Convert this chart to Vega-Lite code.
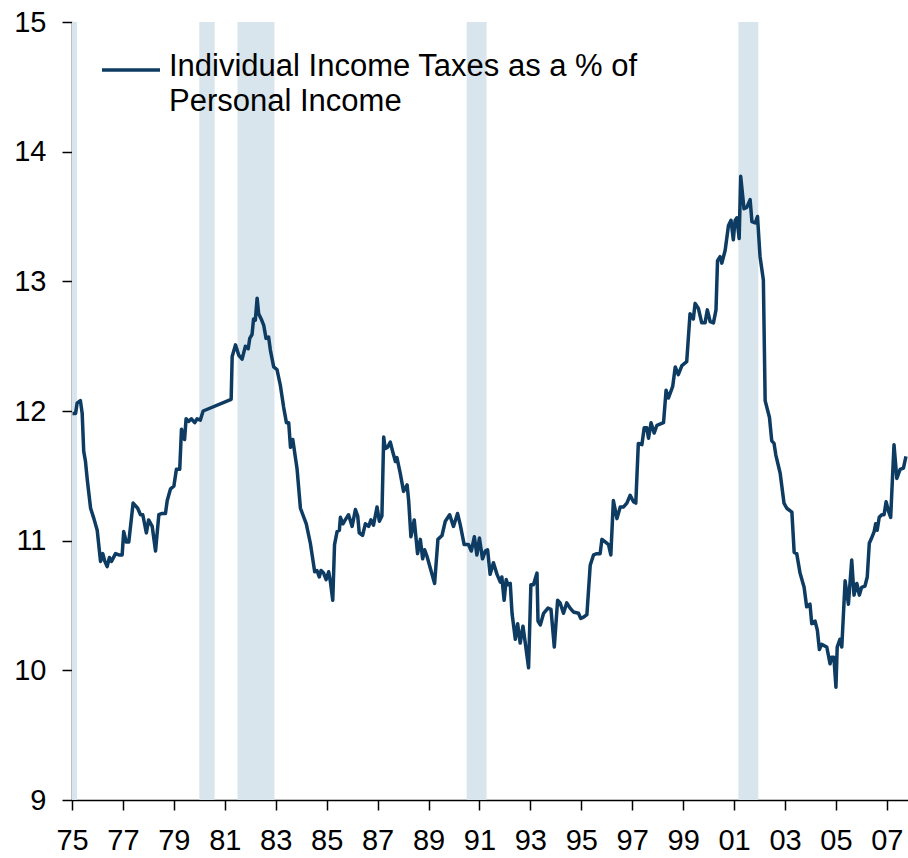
{
  "$schema": "https://vega.github.io/schema/vega-lite/v6.json",
  "width": 836,
  "height": 778,
  "autosize": {"type": "none"},
  "padding": {"left": 72, "top": 22, "right": 0, "bottom": 58},
  "background": "white",
  "config": {
    "view": {"stroke": null},
    "font": "Liberation Sans",
    "axis": {"grid": false, "domainColor": "black", "tickColor": "black", "domainWidth": 1.5, "tickWidth": 1.5, "labelColor": "black", "labelFont": "Liberation Sans", "labelFontSize": 29, "title": null}
  },
  "datasets": {
    "bands": [
      {"start": 1975.0, "end": 1975.2},
      {"start": 1980.0, "end": 1980.6},
      {"start": 1981.5, "end": 1982.95},
      {"start": 1990.5, "end": 1991.28},
      {"start": 2001.17, "end": 2001.95}
    ],
    "series": [
      {"t": 1975.02, "v": 11.98}, {"t": 1975.14, "v": 11.98}, {"t": 1975.20, "v": 12.06}, {"t": 1975.33, "v": 12.08},
      {"t": 1975.40, "v": 11.98}, {"t": 1975.46, "v": 11.69}, {"t": 1975.53, "v": 11.61}, {"t": 1975.60, "v": 11.47},
      {"t": 1975.73, "v": 11.25}, {"t": 1975.86, "v": 11.17}, {"t": 1975.99, "v": 11.08}, {"t": 1976.12, "v": 10.84},
      {"t": 1976.21, "v": 10.90}, {"t": 1976.29, "v": 10.84}, {"t": 1976.38, "v": 10.80}, {"t": 1976.47, "v": 10.87},
      {"t": 1976.55, "v": 10.84}, {"t": 1976.71, "v": 10.90}, {"t": 1976.84, "v": 10.89}, {"t": 1976.97, "v": 10.89},
      {"t": 1977.03, "v": 11.07}, {"t": 1977.13, "v": 10.99}, {"t": 1977.23, "v": 10.99}, {"t": 1977.40, "v": 11.29},
      {"t": 1977.58, "v": 11.25}, {"t": 1977.69, "v": 11.20}, {"t": 1977.78, "v": 11.20}, {"t": 1977.92, "v": 11.06},
      {"t": 1978.01, "v": 11.16}, {"t": 1978.15, "v": 11.11}, {"t": 1978.28, "v": 10.92}, {"t": 1978.41, "v": 11.20},
      {"t": 1978.54, "v": 11.21}, {"t": 1978.67, "v": 11.21}, {"t": 1978.74, "v": 11.31}, {"t": 1978.87, "v": 11.40},
      {"t": 1979.00, "v": 11.42}, {"t": 1979.10, "v": 11.55}, {"t": 1979.23, "v": 11.55}, {"t": 1979.30, "v": 11.86},
      {"t": 1979.42, "v": 11.78}, {"t": 1979.48, "v": 11.94}, {"t": 1979.58, "v": 11.92}, {"t": 1979.69, "v": 11.94},
      {"t": 1979.82, "v": 11.91}, {"t": 1979.91, "v": 11.94}, {"t": 1980.04, "v": 11.93}, {"t": 1980.15, "v": 12.00},
      {"t": 1981.25, "v": 12.09}, {"t": 1981.29, "v": 12.42}, {"t": 1981.42, "v": 12.51}, {"t": 1981.55, "v": 12.43},
      {"t": 1981.68, "v": 12.40}, {"t": 1981.81, "v": 12.50}, {"t": 1981.92, "v": 12.48}, {"t": 1981.98, "v": 12.56},
      {"t": 1982.07, "v": 12.59}, {"t": 1982.13, "v": 12.71}, {"t": 1982.20, "v": 12.70}, {"t": 1982.27, "v": 12.87},
      {"t": 1982.33, "v": 12.75}, {"t": 1982.43, "v": 12.71}, {"t": 1982.53, "v": 12.66}, {"t": 1982.62, "v": 12.56},
      {"t": 1982.72, "v": 12.57}, {"t": 1982.79, "v": 12.47}, {"t": 1982.92, "v": 12.34}, {"t": 1983.05, "v": 12.32},
      {"t": 1983.18, "v": 12.20}, {"t": 1983.31, "v": 12.03}, {"t": 1983.42, "v": 11.91}, {"t": 1983.51, "v": 11.91},
      {"t": 1983.58, "v": 11.72}, {"t": 1983.67, "v": 11.78}, {"t": 1983.84, "v": 11.55}, {"t": 1983.97, "v": 11.25},
      {"t": 1984.20, "v": 11.13}, {"t": 1984.36, "v": 10.98}, {"t": 1984.53, "v": 10.76}, {"t": 1984.62, "v": 10.77},
      {"t": 1984.71, "v": 10.72}, {"t": 1984.78, "v": 10.77}, {"t": 1984.88, "v": 10.75}, {"t": 1984.98, "v": 10.70},
      {"t": 1985.08, "v": 10.76}, {"t": 1985.15, "v": 10.68}, {"t": 1985.24, "v": 10.54}, {"t": 1985.31, "v": 10.97},
      {"t": 1985.41, "v": 11.07}, {"t": 1985.50, "v": 11.08}, {"t": 1985.54, "v": 11.18}, {"t": 1985.64, "v": 11.13},
      {"t": 1985.73, "v": 11.16}, {"t": 1985.86, "v": 11.20}, {"t": 1986.00, "v": 11.11}, {"t": 1986.13, "v": 11.24},
      {"t": 1986.22, "v": 11.19}, {"t": 1986.28, "v": 11.06}, {"t": 1986.41, "v": 11.04}, {"t": 1986.52, "v": 11.13},
      {"t": 1986.65, "v": 11.11}, {"t": 1986.74, "v": 11.16}, {"t": 1986.84, "v": 11.12}, {"t": 1986.98, "v": 11.26},
      {"t": 1987.07, "v": 11.15}, {"t": 1987.17, "v": 11.19}, {"t": 1987.24, "v": 11.80}, {"t": 1987.30, "v": 11.71},
      {"t": 1987.39, "v": 11.72}, {"t": 1987.50, "v": 11.76}, {"t": 1987.59, "v": 11.69}, {"t": 1987.70, "v": 11.61},
      {"t": 1987.76, "v": 11.64}, {"t": 1987.89, "v": 11.52}, {"t": 1988.02, "v": 11.38}, {"t": 1988.16, "v": 11.43},
      {"t": 1988.22, "v": 11.31}, {"t": 1988.31, "v": 11.03}, {"t": 1988.44, "v": 11.16}, {"t": 1988.57, "v": 10.90},
      {"t": 1988.68, "v": 11.01}, {"t": 1988.77, "v": 10.86}, {"t": 1988.85, "v": 10.93}, {"t": 1988.94, "v": 10.88},
      {"t": 1989.24, "v": 10.67}, {"t": 1989.37, "v": 11.01}, {"t": 1989.53, "v": 11.04}, {"t": 1989.66, "v": 11.15},
      {"t": 1989.83, "v": 11.20}, {"t": 1989.98, "v": 11.11}, {"t": 1990.14, "v": 11.21}, {"t": 1990.25, "v": 11.12},
      {"t": 1990.40, "v": 10.97}, {"t": 1990.57, "v": 10.97}, {"t": 1990.68, "v": 10.92}, {"t": 1990.80, "v": 11.03},
      {"t": 1990.90, "v": 10.89}, {"t": 1991.00, "v": 11.02}, {"t": 1991.12, "v": 10.86}, {"t": 1991.23, "v": 10.92},
      {"t": 1991.32, "v": 10.93}, {"t": 1991.42, "v": 10.74}, {"t": 1991.55, "v": 10.83}, {"t": 1991.69, "v": 10.74},
      {"t": 1991.82, "v": 10.68}, {"t": 1991.88, "v": 10.72}, {"t": 1991.97, "v": 10.54}, {"t": 1992.05, "v": 10.70},
      {"t": 1992.12, "v": 10.66}, {"t": 1992.21, "v": 10.67}, {"t": 1992.28, "v": 10.44}, {"t": 1992.41, "v": 10.24},
      {"t": 1992.50, "v": 10.36}, {"t": 1992.60, "v": 10.21}, {"t": 1992.71, "v": 10.34}, {"t": 1992.80, "v": 10.21},
      {"t": 1992.93, "v": 10.02}, {"t": 1993.02, "v": 10.66}, {"t": 1993.12, "v": 10.66}, {"t": 1993.26, "v": 10.75},
      {"t": 1993.30, "v": 10.38}, {"t": 1993.39, "v": 10.35}, {"t": 1993.52, "v": 10.44}, {"t": 1993.69, "v": 10.48},
      {"t": 1993.81, "v": 10.47}, {"t": 1993.94, "v": 10.18}, {"t": 1994.07, "v": 10.54}, {"t": 1994.17, "v": 10.52},
      {"t": 1994.30, "v": 10.44}, {"t": 1994.43, "v": 10.52}, {"t": 1994.56, "v": 10.48}, {"t": 1994.69, "v": 10.45},
      {"t": 1994.89, "v": 10.44}, {"t": 1994.98, "v": 10.40}, {"t": 1995.09, "v": 10.41}, {"t": 1995.22, "v": 10.43},
      {"t": 1995.35, "v": 10.81}, {"t": 1995.48, "v": 10.89}, {"t": 1995.61, "v": 10.90}, {"t": 1995.74, "v": 10.90},
      {"t": 1995.81, "v": 11.01}, {"t": 1995.94, "v": 10.99}, {"t": 1996.07, "v": 10.97}, {"t": 1996.16, "v": 10.89},
      {"t": 1996.26, "v": 11.31}, {"t": 1996.40, "v": 11.17}, {"t": 1996.53, "v": 11.26}, {"t": 1996.66, "v": 11.26},
      {"t": 1996.79, "v": 11.29}, {"t": 1996.92, "v": 11.35}, {"t": 1997.05, "v": 11.30}, {"t": 1997.14, "v": 11.29},
      {"t": 1997.24, "v": 11.75}, {"t": 1997.38, "v": 11.74}, {"t": 1997.47, "v": 11.87}, {"t": 1997.57, "v": 11.87},
      {"t": 1997.64, "v": 11.79}, {"t": 1997.74, "v": 11.91}, {"t": 1997.86, "v": 11.83}, {"t": 1997.97, "v": 11.89},
      {"t": 1998.23, "v": 11.91}, {"t": 1998.33, "v": 12.16}, {"t": 1998.42, "v": 12.10}, {"t": 1998.59, "v": 12.19},
      {"t": 1998.69, "v": 12.34}, {"t": 1998.81, "v": 12.28}, {"t": 1998.95, "v": 12.35}, {"t": 1999.14, "v": 12.38},
      {"t": 1999.27, "v": 12.75}, {"t": 1999.40, "v": 12.71}, {"t": 1999.47, "v": 12.83}, {"t": 1999.60, "v": 12.79},
      {"t": 1999.73, "v": 12.68}, {"t": 1999.86, "v": 12.68}, {"t": 1999.95, "v": 12.78}, {"t": 2000.06, "v": 12.69},
      {"t": 2000.19, "v": 12.68}, {"t": 2000.29, "v": 12.78}, {"t": 2000.35, "v": 13.16}, {"t": 2000.45, "v": 13.19},
      {"t": 2000.52, "v": 13.14}, {"t": 2000.65, "v": 13.24}, {"t": 2000.78, "v": 13.43}, {"t": 2000.88, "v": 13.47},
      {"t": 2000.97, "v": 13.32}, {"t": 2001.04, "v": 13.47}, {"t": 2001.11, "v": 13.49}, {"t": 2001.20, "v": 13.33},
      {"t": 2001.26, "v": 13.81}, {"t": 2001.39, "v": 13.56}, {"t": 2001.50, "v": 13.57}, {"t": 2001.63, "v": 13.63},
      {"t": 2001.70, "v": 13.46}, {"t": 2001.83, "v": 13.45}, {"t": 2001.92, "v": 13.50}, {"t": 2002.02, "v": 13.19},
      {"t": 2002.15, "v": 13.01}, {"t": 2002.22, "v": 12.08}, {"t": 2002.39, "v": 11.95}, {"t": 2002.48, "v": 11.77},
      {"t": 2002.57, "v": 11.75}, {"t": 2002.64, "v": 11.66}, {"t": 2002.81, "v": 11.52}, {"t": 2002.96, "v": 11.29},
      {"t": 2003.07, "v": 11.25}, {"t": 2003.27, "v": 11.22}, {"t": 2003.36, "v": 10.91}, {"t": 2003.46, "v": 10.90},
      {"t": 2003.59, "v": 10.75}, {"t": 2003.75, "v": 10.64}, {"t": 2003.85, "v": 10.49}, {"t": 2003.98, "v": 10.51},
      {"t": 2004.05, "v": 10.36}, {"t": 2004.18, "v": 10.38}, {"t": 2004.27, "v": 10.31}, {"t": 2004.35, "v": 10.16},
      {"t": 2004.44, "v": 10.20}, {"t": 2004.64, "v": 10.18}, {"t": 2004.77, "v": 10.05}, {"t": 2004.83, "v": 10.10},
      {"t": 2004.92, "v": 10.10}, {"t": 2005.00, "v": 9.87}, {"t": 2005.05, "v": 10.18}, {"t": 2005.16, "v": 10.24},
      {"t": 2005.23, "v": 10.18}, {"t": 2005.36, "v": 10.69}, {"t": 2005.49, "v": 10.51}, {"t": 2005.62, "v": 10.85},
      {"t": 2005.71, "v": 10.58}, {"t": 2005.82, "v": 10.67}, {"t": 2005.92, "v": 10.58}, {"t": 2006.01, "v": 10.64},
      {"t": 2006.14, "v": 10.65}, {"t": 2006.23, "v": 10.72}, {"t": 2006.31, "v": 10.98}, {"t": 2006.40, "v": 11.02},
      {"t": 2006.50, "v": 11.07}, {"t": 2006.56, "v": 11.13}, {"t": 2006.62, "v": 11.08}, {"t": 2006.70, "v": 11.18},
      {"t": 2006.80, "v": 11.20}, {"t": 2006.89, "v": 11.20}, {"t": 2006.97, "v": 11.30}, {"t": 2007.06, "v": 11.23},
      {"t": 2007.15, "v": 11.18}, {"t": 2007.28, "v": 11.74}, {"t": 2007.39, "v": 11.48}, {"t": 2007.52, "v": 11.55},
      {"t": 2007.65, "v": 11.56}, {"t": 2007.75, "v": 11.65}
    ]
  },
  "layer": [
    {
      "data": {"name": "bands"},
      "mark": {"type": "rect", "color": "#d8e5ec"},
      "encoding": {
        "x": {"field": "start", "type": "quantitative", "scale": {"domain": [1975, 2007.83], "nice": false, "zero": false}},
        "x2": {"field": "end"}
      }
    },
    {
      "data": {"name": "series"},
      "transform": [{"calculate": "'Individual Income Taxes as a % of Personal Income'", "as": "series"}],
      "mark": {"type": "line", "strokeWidth": 3.5, "strokeJoin": "round"},
      "encoding": {
        "x": {
          "field": "t", "type": "quantitative",
          "scale": {"domain": [1975, 2007.83], "nice": false, "zero": false},
          "axis": {
            "values": [1975, 1977, 1979, 1981, 1983, 1985, 1987, 1989, 1991, 1993, 1995, 1997, 1999, 2001, 2003, 2005, 2007],
            "labelExpr": "(datum.value % 100) < 10 ? '0' + (datum.value % 100) : '' + (datum.value % 100)",
            "tickSize": 10, "labelPadding": 16, "labelFlush": false, "labelOverlap": false
          }
        },
        "y": {
          "field": "v", "type": "quantitative",
          "scale": {"domain": [9, 15], "nice": false, "zero": false},
          "axis": {"values": [9, 10, 11, 12, 13, 14, 15], "tickSize": 10, "labelPadding": 16, "labelFlush": false}
        },
        "color": {
          "field": "series", "type": "nominal",
          "scale": {"range": ["#0d3b61"]},
          "legend": {
            "orient": "none", "legendX": 28, "legendY": 17, "title": null,
            "symbolType": "stroke", "symbolSize": 3364, "symbolStrokeWidth": 3.5,
            "labelFont": "Liberation Sans", "labelFontSize": 31, "labelColor": "black",
            "labelExpr": "['Individual Income Taxes as a % of', 'Personal Income']",
            "labelOffset": 7, "labelLimit": 0, "labelBaseline": "top",
            "encode": {"labels": {"update": {"lineHeight": {"value": 35}, "dy": {"value": -18}}}}
          }
        }
      }
    }
  ]
}
